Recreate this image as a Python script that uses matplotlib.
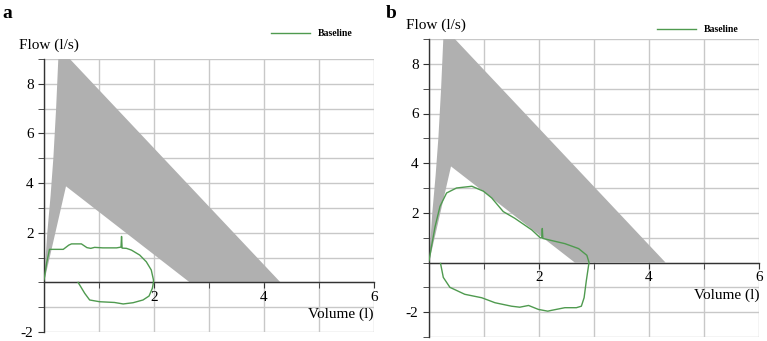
import matplotlib
matplotlib.use("Agg")
import matplotlib.pyplot as plt
from matplotlib.lines import Line2D

plt.rcParams['font.family'] = ['Liberation Serif', 'DejaVu Serif']
plt.rcParams['axes.unicode_minus'] = False

# predicted flow-volume envelope (grey area)
envVol = [0, 0.06, 0.12, 0.17, 0.22, 0.26, 0.30, 4.30, 2.65, 0.40, 0]
envFlow = [0, 2.0, 3.5, 5.0, 7.0, 9.0, 9.4, 0, 0, 3.87, 0]

# panel a baseline loop
volA = [0, 0.05, 0.10, 0.35, 0.45, 0.50, 0.68, 0.78, 0.85, 0.92, 1.07, 1.32, 1.40,
        1.41, 1.42, 1.50, 1.59, 1.74, 1.86, 1.95, 1.99, 1.99, 1.97, 1.91, 1.80,
        1.62, 1.44, 1.28, 1.01, 0.83, 0.74, 0.62]
flowA = [0.1, 0.8, 1.33, 1.33, 1.50, 1.55, 1.55, 1.40, 1.37, 1.41, 1.39, 1.39, 1.42,
         1.85, 1.38, 1.37, 1.30, 1.10, 0.83, 0.50, 0.10, 0, -0.24, -0.55, -0.71,
         -0.82, -0.87, -0.81, -0.78, -0.71, -0.44, 0]

# panel b baseline loop
volB = [0, 0.05, 0.11, 0.20, 0.32, 0.50, 0.78, 0.99, 1.14, 1.35, 1.56, 1.87, 2.02,
        2.05, 2.06, 2.07, 2.20, 2.47, 2.72, 2.87, 2.91, 2.90, 2.86, 2.82, 2.77,
        2.68, 2.47, 2.22, 2.16, 1.99, 1.81, 1.65, 1.50, 1.20, 0.96, 0.65, 0.38,
        0.26, 0.21]
flowB = [0.07, 0.7, 1.44, 2.26, 2.80, 3.00, 3.07, 2.87, 2.60, 2.05, 1.78, 1.31, 1.00,
         1.00, 1.37, 0.97, 0.90, 0.76, 0.56, 0.29, 0, -0.14, -0.74, -1.42, -1.76,
         -1.82, -1.82, -1.93, -1.96, -1.89, -1.73, -1.80, -1.76, -1.62, -1.42,
         -1.28, -1.00, -0.60, -0.04]

yTicks = [-2, 2, 4, 6, 8]
xTicks = [2, 4, 6]

greyCol = '#b0b0b0'
greenCol = '#4f9a4f'
gridCol = '#c8c8c8'


def drawPanel(ax, vol, flow, yMin):
    ax.fill(envVol, envFlow, color=greyCol, lw=0, zorder=1)
    ax.plot(vol, flow, color=greenCol, lw=1.0, zorder=3)
    ax.set_xlim(0, 6)
    ax.set_ylim(yMin, 9)
    ax.set_xticks(xTicks)
    ax.set_xticks(range(0, 7), minor=True)
    ax.set_yticks(yTicks)
    ax.set_yticks(range(yMin, 10), minor=True)
    ax.grid(which='both', color=gridCol, lw=1.0, zorder=0)
    ax.set_axisbelow(True)
    ax.spines['top'].set_visible(False)
    ax.spines['right'].set_visible(False)
    ax.spines['bottom'].set_position(('data', 0))
    for s in ['left', 'bottom']:
        ax.spines[s].set_color('#333333')
        ax.spines[s].set_linewidth(1.0)
        ax.spines[s].set_zorder(2)
    ax.tick_params(which='both', direction='out', length=4, color='#333333',
                   labelsize=11)
    ax.tick_params(axis='x', pad=2)
    ax.text(6, -1.3, 'Volume (l)', fontsize=11, ha='right', va='center')


fig = plt.figure(figsize=(7.67, 3.41), dpi=100)
axA = fig.add_axes([44 / 767, 1 - 332 / 341, 330 / 767, 273 / 341])
axB = fig.add_axes([429 / 767, 1 - 337 / 341, 330 / 767, 298 / 341])

drawPanel(axA, volA, flowA, -2)
drawPanel(axB, volB, flowB, -3)

fig.text(19 / 767, 1 - 45 / 341, 'Flow (l/s)', fontsize=11, va='center')
fig.text(406 / 767, 1 - 25 / 341, 'Flow (l/s)', fontsize=11, va='center')
fig.text(2 / 767, 1 - 13 / 341, 'a', fontsize=14, fontweight='bold', va='center')
fig.text(386 / 767, 1 - 14 / 341, 'b', fontsize=14, fontweight='bold', va='center')

handle = [Line2D([], [], color=greenCol, lw=1.0)]
fig.legend(handle, ['Baseline'], loc='center left', frameon=False,
           bbox_to_anchor=(262 / 767, 1 - 34 / 341), handlelength=4,
           prop={'size': 7, 'weight': 'bold'})
fig.legend(handle, ['Baseline'], loc='center left', frameon=False,
           bbox_to_anchor=(648 / 767, 1 - 30 / 341), handlelength=4,
           prop={'size': 7, 'weight': 'bold'})

fig.savefig('out.png', dpi=100)
